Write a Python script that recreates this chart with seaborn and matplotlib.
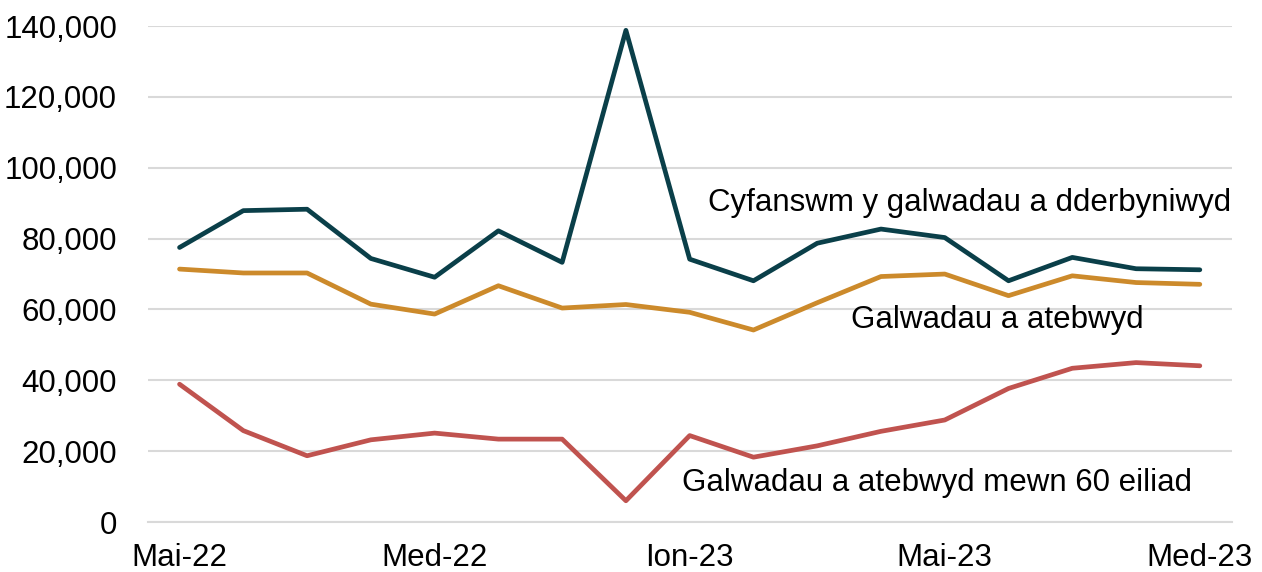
import pandas as pd
import matplotlib
matplotlib.use('Agg')
import matplotlib.pyplot as plt
import seaborn as sns
from matplotlib.ticker import FuncFormatter, FixedLocator

# Months May 2022 - Sep 2023 (Welsh labels)
months = ['Mai-22', 'Meh-22', 'Gor-22', 'Awst-22', 'Med-22', 'Hyd-22', 'Tach-22', 'Rhag-22',
          'Ion-23', 'Chwef-23', 'Maw-23', 'Ebr-23', 'Mai-23', 'Meh-23', 'Gor-23', 'Awst-23', 'Med-23']

total_received = [77500, 87900, 88300, 74400, 69100, 82200, 73300, 138800, 74200,
                  68100, 78700, 82700, 80300, 68100, 74700, 71500, 71200]
answered = [71400, 70300, 70300, 61500, 58700, 66700, 60400, 61400, 59200,
            54200, 61900, 69300, 70000, 63900, 69500, 67600, 67100]
answered_60s = [38900, 25800, 18700, 23200, 25100, 23400, 23400, 6000, 24400,
                18300, 21500, 25600, 28800, 37700, 43400, 45000, 44100]

series_names = ['Cyfanswm y galwadau a dderbyniwyd', 'Galwadau a atebwyd',
                'Galwadau a atebwyd mewn 60 eiliad']
colors = ['#0A3F49', '#CC8A2B', '#C0534F']

df = pd.DataFrame({'idx': range(len(months)),
                   series_names[0]: total_received,
                   series_names[1]: answered,
                   series_names[2]: answered_60s})
long_df = df.melt(id_vars='idx', var_name='series', value_name='calls')

sns.set_theme(style='white')
plt.rcParams['font.family'] = ['Liberation Sans', 'DejaVu Sans']
plt.rcParams['text.color'] = 'black'

fig = plt.figure(figsize=(12.62, 5.72), dpi=100)
ax = fig.add_axes([0.117, 0.0874, 0.859, 0.867])

sns.lineplot(data=long_df, x='idx', y='calls', hue='series', palette=colors,
             hue_order=series_names, linewidth=3.4, legend=False, ax=ax)

ax.set_xlim(-0.5, len(months) - 0.5)
ax.set_ylim(0, 140000)
ax.set_yticks(range(0, 140001, 20000))
ax.yaxis.set_major_formatter(FuncFormatter(lambda v, p: f'{int(v):,}'))
ax.grid(axis='y', color='#D9D9D9', linewidth=1.5)
ax.set_axisbelow(True)

label_idx = [0, 4, 8, 12, 16]
ax.set_xticks(label_idx)
ax.set_xticklabels([months[i] for i in label_idx])
ax.xaxis.set_minor_locator(FixedLocator([-0.5, 5.5, 11.5]))
ax.tick_params(axis='x', which='major', length=0, pad=15, labelsize=22.5, colors='black')
ax.tick_params(axis='x', which='minor', length=8, width=1.5, color='#D9D9D9')
ax.tick_params(axis='y', length=0, pad=22, labelsize=22.5, colors='black')
ax.set_xlabel('')
ax.set_ylabel('')

for s in ['left', 'right', 'top']:
    ax.spines[s].set_visible(False)
ax.spines['bottom'].set_color('#D9D9D9')
ax.spines['bottom'].set_linewidth(1.5)

ax.text(8.28, 90000, series_names[0], fontsize=22.5, va='center', ha='left', color='black')
ax.text(10.53, 57000, series_names[1], fontsize=22.5, va='center', ha='left', color='black')
ax.text(7.88, 11000, series_names[2], fontsize=22.5, va='center', ha='left', color='black')

fig.savefig('out.png', dpi=100)
